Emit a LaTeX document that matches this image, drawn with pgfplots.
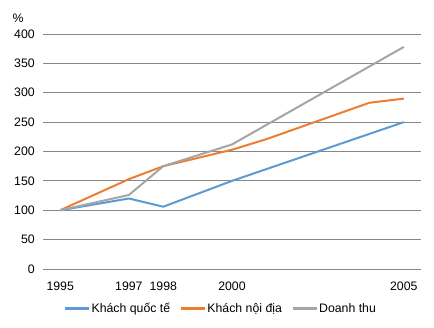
\documentclass[border=0pt]{standalone}
\usepackage{pgfplots}
\pgfplotsset{compat=1.18}
\usepackage{fontspec}
\setmainfont{Liberation Sans}
\definecolor{cblue}{HTML}{5B9BD5}
\definecolor{corange}{HTML}{ED7D31}
\definecolor{cgray}{HTML}{A5A5A5}
\definecolor{cgrid}{HTML}{888888}
\newcommand{\cf}{\fontsize{12.3bp}{14bp}\selectfont}
\begin{document}
\cf
\begin{tikzpicture}
\path[use as bounding box] (0,0) rectangle (434bp,328bp);
\begin{axis}[
  at={(43bp,59bp)}, anchor=south west,
  scale only axis, width=378bp, height=235bp,
  xmin=1994.5, xmax=2005.5, ymin=0, ymax=400,
  xtick={1995,1997,1998,2000,2005},
  ytick={0,50,...,400},
  xticklabel style={/pgf/number format/1000 sep={}},
  /pgf/number format/assume math mode=true,
  ticklabel style={font=\cf},
  major tick length=0pt,
  axis line style={draw=none},
  ymajorgrids, grid style={cgrid, line width=0.8bp},
  yticklabel style={xshift=-4bp},
  xticklabel style={yshift=-9bp},
  legend columns=3,
  legend style={at={(0.47,-0.168)}, anchor=center, draw=none, fill=none,
    font=\cf,
    /tikz/every even column/.append style={column sep=8bp},
    /tikz/every odd column/.append style={column sep=0bp},
    nodes={inner xsep=1.5bp}},
  legend image code/.code={\draw[#1, line width=2.2bp] (0bp,0bp) -- (24bp,0bp);},
  every axis plot/.append style={line width=2bp, line join=round},
  clip=false,
]
\addplot[cblue, mark=none] coordinates {(1995,100) (1997,120) (1998,106) (2000,150) (2005,250)};
\addlegendentry{Khách quốc tế}
\addplot[corange, mark=none] coordinates {(1995,100) (1997,153) (1998,175) (2000,203) (2001,221) (2004,283) (2005,290)};
\addlegendentry{Khách nội địa}
\addplot[cgray, mark=none] coordinates {(1995,100) (1997,126) (1998,175) (2000,212) (2005,378)};
\addlegendentry{Doanh thu}
\node[anchor=center] at (rel axis cs:-0.066,1.065) {\%};
\end{axis}
\end{tikzpicture}
\end{document}
